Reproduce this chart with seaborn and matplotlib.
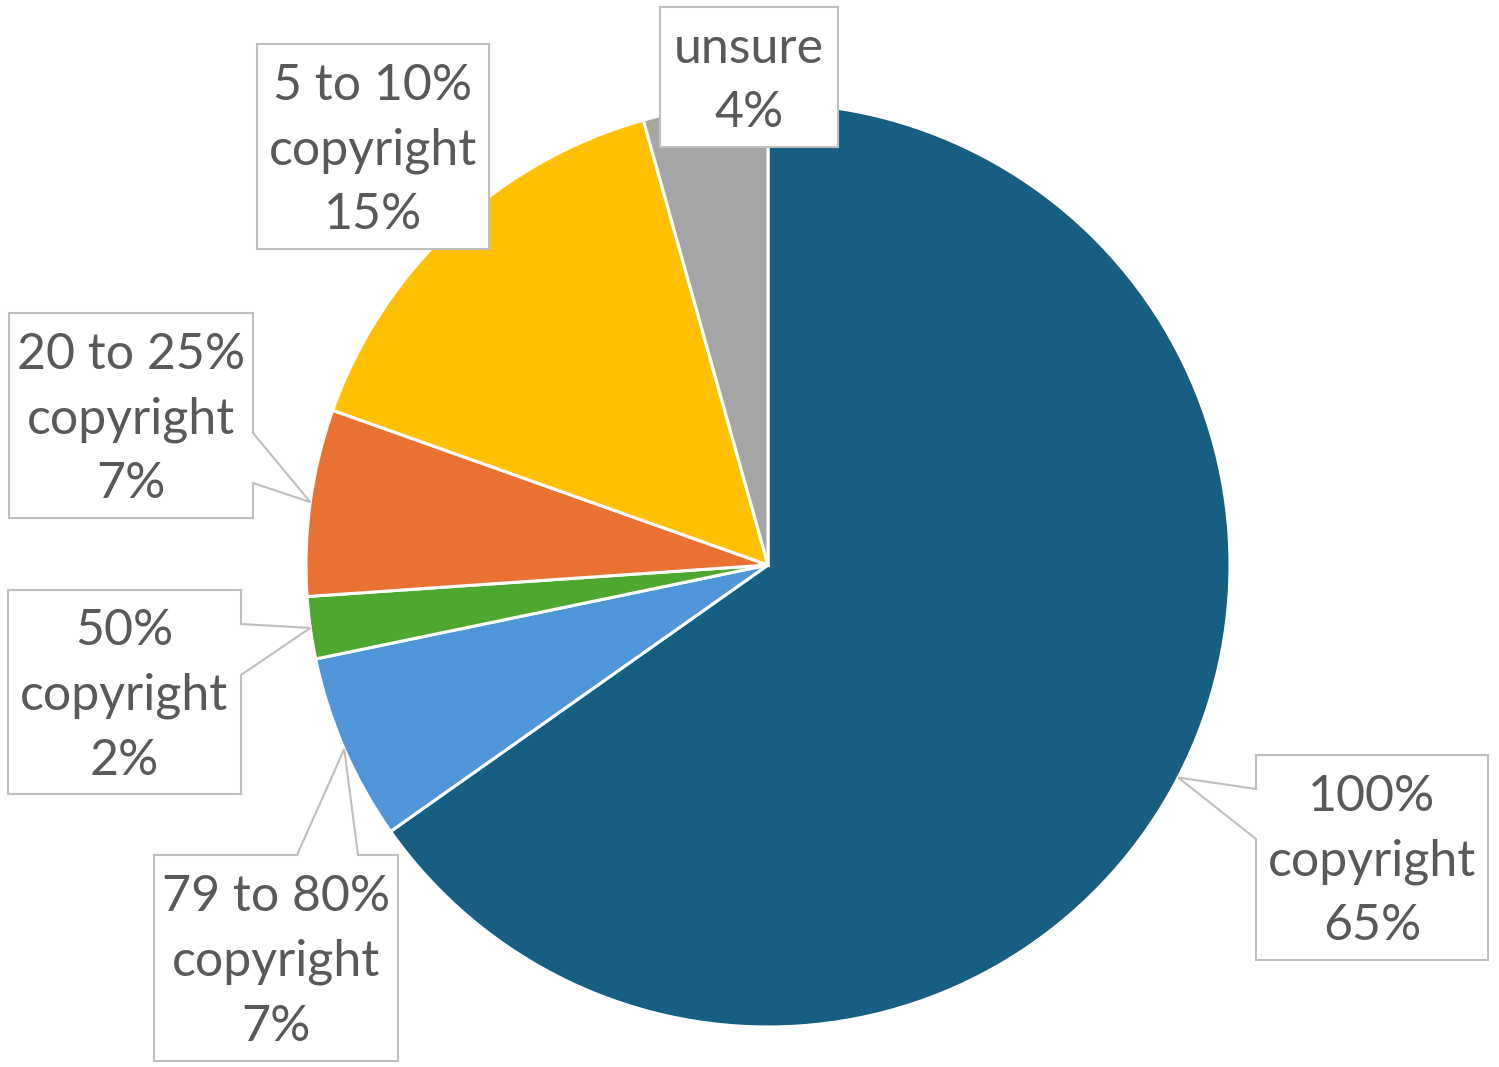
import numpy as np
import seaborn as sns
import matplotlib.pyplot as plt
from matplotlib.patches import Polygon

# responses per category (46 in total)
categories = ['100% copyright', '79 to 80% copyright', '50% copyright',
              '20 to 25% copyright', '5 to 10% copyright', 'unsure']
counts = [30, 3, 1, 3, 7, 2]
colors = ['#165F82', '#4E95D9', '#4EA72E', '#E97132', '#FFC000', '#A5A5A5']
label_lines = [['100%', 'copyright'], ['79 to 80%', 'copyright'], ['50%', 'copyright'],
               ['20 to 25%', 'copyright'], ['5 to 10%', 'copyright'], ['unsure']]

W, H = 1499, 1067
CX, CY, R = 768, 565, 462

# label boxes in pixel coords (x0, y0, x1, y1), plus callout notch (side, a, b)
boxes = [
    ((1256, 755, 1488, 960), ('left', 789, 839)),
    ((154, 855, 398, 1061), ('top', 297, 358)),
    ((8, 590, 241, 794), ('right', 624, 675)),
    ((9, 313, 253, 518), ('right', 433, 483)),
    ((257, 44, 489, 249), None),
    ((660, 7, 838, 147), None),
]

sns.set_theme(style='white')
plt.rcParams['font.family'] = ['Lato', 'DejaVu Sans']

fig = plt.figure(figsize=(W / 100, H / 100), dpi=100)
ax = fig.add_axes([0, 0, 1, 1])


def flip(x, y):
    return (x, H - y)


wedges, _ = ax.pie(counts, colors=colors, startangle=90, counterclock=False,
                   center=flip(CX, CY), radius=R,
                   wedgeprops=dict(edgecolor='white', linewidth=2.2))
ax.set_xlim(0, W)
ax.set_ylim(0, H)
ax.set_aspect('equal')
ax.axis('off')

total = sum(counts)
for w, n, lines, (box, notch) in zip(wedges, counts, label_lines, boxes):
    x0, y0, x1, y1 = box
    mid = np.deg2rad((w.theta1 + w.theta2) / 2)
    tip = (CX + R * np.cos(mid), CY - R * np.sin(mid))
    pts = [(x0, y0)]
    if notch and notch[0] == 'top':
        pts += [(notch[1], y0), tip, (notch[2], y0)]
    pts.append((x1, y0))
    if notch and notch[0] == 'right':
        pts += [(x1, notch[1]), tip, (x1, notch[2])]
    pts += [(x1, y1), (x0, y1)]
    if notch and notch[0] == 'left':
        pts += [(x0, notch[2]), tip, (x0, notch[1])]
    poly = Polygon([flip(*p) for p in pts], closed=True, facecolor='white',
                   edgecolor='#BFBFBF', linewidth=1.5, zorder=5)
    ax.add_patch(poly)
    pct = f'{round(100 * n / total)}%'
    txt = '\n'.join(lines + [pct])
    ax.text(*flip((x0 + x1) / 2, (y0 + y1) / 2 + 4), txt, ha='center', va='center',
            fontsize=36, color='#595959', linespacing=1.5, zorder=6)

fig.savefig('out.png', dpi=100, facecolor='white')
